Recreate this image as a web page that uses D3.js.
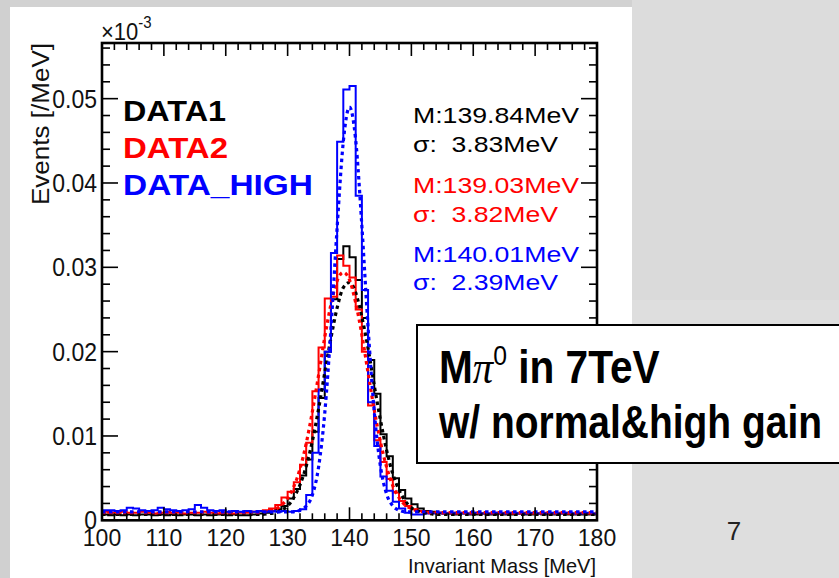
<!DOCTYPE html>
<html><head><meta charset="utf-8">
<script src="https://cdn.jsdelivr.net/npm/d3@7"></script>
<style>body{margin:0;background:#dadada;}svg{display:block;}</style>
</head><body>
<svg id="c" width="839" height="578"></svg>
<script>
// ---------- data ----------
const binStart = 100, binWidth = 1;
const data1 = [
.0007,.0006,.0007,.0006,.0007,.0006,.0007,.0007,.0006,.0007,
.0006,.0007,.0006,.0007,.0007,.0006,.0007,.0006,.0007,.0007,
.0006,.0007,.0006,.0006,.0007,.0008,.0009,.0011,.0013,.0017,
.0026,.0037,.0053,.0072,.0105,.0145,.0200,.0262,.0310,.0325,
.0312,.0285,.0240,.0190,.0150,.0102,.0076,.0050,.0036,.0026,
.0019,.0014,.0011,.0010,.0009,.0008,.0008,.0007,.0008,.0007,
.0007,.0008,.0007,.0007,.0008,.0007,.0007,.0008,.0007,.0007,
.0008,.0007,.0007,.0007,.0008,.0007,.0007,.0007,.0007,.0007];
const data2 = [
.0010,.0009,.0009,.0010,.0009,.0009,.0010,.0009,.0008,.0009,
.0010,.0009,.0009,.0008,.0009,.0009,.0010,.0009,.0008,.0009,
.0009,.0008,.0009,.0009,.0010,.0011,.0012,.0014,.0018,.0027,
.0034,.0045,.0066,.0092,.0153,.0205,.0263,.0265,.0314,.0302,
.0288,.0250,.0200,.0136,.0095,.0069,.0049,.0033,.0023,.0017,
.0013,.0011,.0010,.0009,.0009,.0008,.0009,.0008,.0009,.0008,
.0009,.0008,.0008,.0009,.0008,.0009,.0008,.0008,.0009,.0008,
.0008,.0009,.0008,.0008,.0009,.0008,.0008,.0009,.0008,.0008];
const dataHigh = [
.0012,.0012,.0011,.0012,.0015,.0014,.0012,.0011,.0012,.0015,
.0013,.0012,.0011,.0012,.0013,.0018,.0015,.0012,.0011,.0012,
.0010,.0011,.0010,.0011,.0010,.0011,.0010,.0011,.0010,.0011,
.0010,.0011,.0013,.0030,.0080,.0155,.0200,.0317,.0449,.0511,
.0515,.0385,.0273,.0140,.0088,.0052,.0035,.0022,.0014,.0009,
.0007,.0007,.0008,.0008,.0009,.0008,.0008,.0009,.0008,.0008,
.0009,.0008,.0008,.0009,.0008,.0008,.0009,.0008,.0008,.0009,
.0008,.0008,.0009,.0008,.0008,.0009,.0008,.0008,.0009,.0008];

const fitX = [100,120,125,126,127,128,129,130,131,132,133,134,135,136,137,138,139,140,
              141,142,143,144,145,146,147,148,149,150,151,152,153,154,155,156,160,180];
const fit1 = [.0007,.0007,.0007,.0007,.0008,.0009,.0012,.0017,.0027,.0042,.0064,.0094,.0132,.0175,.0216,.0252,.0276,.0282,
              .0270,.0241,.0204,.0160,.0119,.0083,.0055,.0036,.0023,.0015,.0011,.0009,.0008,.0007,.0007,.0007,.0007,.0007];
const fit2 = [.0009,.0009,.0009,.0010,.0011,.0013,.0018,.0026,.0040,.0061,.0091,.0129,.0172,.0217,.0256,.0284,.0294,.0285,
              .0258,.0220,.0175,.0131,.0093,.0063,.0041,.0027,.0018,.0014,.0011,.0010,.0009,.0009,.0009,.0009,.0009,.0009];
const fitHigh = [.0010,.0010,.0010,.0010,.0010,.0010,.0010,.0010,.0010,.0012,.0017,.0030,.0063,.0127,.0227,.0347,.0449,.0490,
              .0451,.0349,.0229,.0129,.0064,.0031,.0017,.0012,.0010,.0010,.0010,.0010,.0010,.0010,.0010,.0010,.0010,.0010];

const seriesNames = ["DATA1","DATA2","DATA_HIGH"];
const seriesColors = ["#000000","#ff0000","#0000ff"];
const statM = ["M:139.84MeV","M:139.03MeV","M:140.01MeV"];
const statS = ["\u03c3:  3.83MeV","\u03c3:  3.82MeV","\u03c3:  2.39MeV"];
const xTicks = [100,110,120,130,140,150,160,170,180];
const yTicks = [0,0.01,0.02,0.03,0.04,0.05];
const yTickLabels = ["0","0.01","0.02","0.03","0.04","0.05"];

// ---------- drawing ----------
const svg = d3.select("#c");
const FONT = "'Liberation Sans', Arial, Helvetica, sans-serif";
svg.append("rect").attr("width",839).attr("height",578).attr("fill","#dadada");
const patches = [[0,0,839,8,"#d2d2d2"],[0,0,10,578,"#d0d0d0"],[632,0,207,130,"#dcdcdc"],[632,300,207,278,"#dedede"]];
patches.forEach(p=>svg.append("rect").attr("x",p[0]).attr("y",p[1]).attr("width",p[2]).attr("height",p[3]).attr("fill",p[4]));
svg.append("rect").attr("x",10).attr("y",7).attr("width",622).attr("height",571).attr("fill","#ffffff");

const x = d3.scaleLinear().domain([100,180]).range([102,597]);
const y = d3.scaleLinear().domain([0,0.0566]).range([520.3,43]);

const g = svg.append("g");
g.append("defs").append("clipPath").attr("id","clip")
  .append("rect").attr("x",x(100)).attr("y",y(0.0566)).attr("width",x(180)-x(100)).attr("height",y(0)-y(0.0566));

function stepPts(vals){
  const pts = vals.map((v,i)=>[binStart+i*binWidth, v]);
  pts.push([binStart+vals.length*binWidth, vals[vals.length-1]]);
  return pts;
}
const stepLine = d3.line().x(d=>x(d[0])).y(d=>y(d[1])).curve(d3.curveStepAfter);
const fitLine = d3.line().x(d=>x(d[0])).y(d=>y(d[1])).curve(d3.curveMonotoneX);

const plot = g.append("g").attr("clip-path","url(#clip)");
[data1,data2,dataHigh].forEach((vals,i)=>{
  plot.append("path").attr("d",stepLine(stepPts(vals))).attr("fill","none")
    .attr("stroke",seriesColors[i]).attr("stroke-width",2);
});
[fit1,fit2,fitHigh].forEach((vals,i)=>{
  plot.append("path").attr("d",fitLine(fitX.map((xx,j)=>[xx,vals[j]]))).attr("fill","none")
    .attr("stroke",seriesColors[i]).attr("stroke-width",3.2).attr("stroke-dasharray","3.5,3.5");
});

// axes ticks (ROOT style, inside)
const ax = g.append("g").attr("stroke","#000");
const xMinor = d3.range(100,180.01,2);
xMinor.forEach(v=>{
  const major = (v%10===0);
  const L = major?13:7;
  ax.append("line").attr("x1",x(v)).attr("x2",x(v)).attr("y1",y(0)).attr("y2",y(0)-L).attr("stroke-width",1.6);
  ax.append("line").attr("x1",x(v)).attr("x2",x(v)).attr("y1",y(0.0566)).attr("y2",y(0.0566)+L).attr("stroke-width",1.6);
});
const yMinor = d3.range(0,0.0561,0.002);
yMinor.forEach((v,i)=>{
  const major = (i%5===0);
  const L = major?16:8;
  ax.append("line").attr("x1",x(100)).attr("x2",x(100)+L).attr("y1",y(v)).attr("y2",y(v)).attr("stroke-width",1.6);
  ax.append("line").attr("x1",x(180)).attr("x2",x(180)-L).attr("y1",y(v)).attr("y2",y(v)).attr("stroke-width",1.6);
});
g.append("rect").attr("x",x(100)).attr("y",y(0.0566)).attr("width",x(180)-x(100)).attr("height",y(0)-y(0.0566))
  .attr("fill","none").attr("stroke","#000").attr("stroke-width",2.6);

// tick labels (slightly tall glyphs as in the reference)
function tallText(parent, tx, ty, anchor, str, size, sy){
  return parent.append("text").attr("transform",`translate(${tx},${ty}) scale(1,${sy})`)
    .attr("text-anchor",anchor).attr("font-family",FONT).attr("font-size",size).attr("fill","#111").text(str);
}
xTicks.forEach(v=>tallText(g, x(v), 546, "middle", v, 23, 1.08));
yTicks.forEach((v,i)=>tallText(g, 97, y(v)+9, "end", yTickLabels[i], 23, 1.15));
// exponent
const ex = g.append("text").attr("transform","translate(101,40) scale(1,1.1)").attr("font-family",FONT).attr("font-size",22).attr("fill","#111");
ex.append("tspan").text("\u00d710");
ex.append("tspan").attr("dy",-11).attr("font-size",15).text("-3");

// axis titles
g.append("text").attr("transform","translate(49,43) rotate(-90)").attr("text-anchor","end")
  .attr("font-family",FONT).attr("font-size",23).attr("fill","#111")
  .attr("textLength",162).attr("lengthAdjust","spacingAndGlyphs").text("Events [/MeV]");
g.append("text").attr("x",596).attr("y",573).attr("text-anchor","end")
  .attr("font-family",FONT).attr("font-size",21).attr("fill","#111")
  .attr("textLength",188).attr("lengthAdjust","spacingAndGlyphs").text("Invariant Mass [MeV]");

// legend
const legY = [121,158,195], legW = [103,105,190];
seriesNames.forEach((n,i)=>{
  g.append("text").attr("x",123).attr("y",legY[i]).attr("font-family",FONT).attr("font-weight","bold")
   .attr("font-size",29).attr("fill",seriesColors[i])
   .attr("textLength",legW[i]).attr("lengthAdjust","spacingAndGlyphs").text(n);
});
// stats
const mY = [123,193,262], sY = [152,222,290];
statM.forEach((t,i)=>{
  g.append("text").attr("x",413).attr("y",mY[i]).attr("font-family",FONT).attr("font-size",22)
   .attr("fill",seriesColors[i]).attr("textLength",166).attr("lengthAdjust","spacingAndGlyphs").text(t);
  g.append("text").attr("x",413).attr("y",sY[i]).attr("font-family",FONT).attr("font-size",22)
   .attr("fill",seriesColors[i]).attr("textLength",145).attr("lengthAdjust","spacingAndGlyphs")
   .style("white-space","pre").text(statS[i]);
});

// annotation box
svg.append("rect").attr("x",417).attr("y",325).attr("width",440).attr("height",138)
  .attr("fill","#fff").attr("stroke","#000").attr("stroke-width",2);
const NARROW = "'Liberation Sans Narrow', 'Arial Narrow', 'Liberation Sans', Arial, sans-serif";
const t1 = svg.append("text").attr("x",0).attr("y",0).attr("font-family",NARROW).attr("font-weight","bold")
  .attr("font-size",46).attr("fill","#000");
t1.append("tspan").text("M");
t1.append("tspan").attr("font-family","'Liberation Serif', 'Times New Roman', serif").attr("font-style","italic").attr("font-weight","normal").text("\u03c0");
t1.append("tspan").attr("dy",-18).attr("font-size",28).attr("font-weight","normal").text("0");
t1.append("tspan").attr("dy",18).text(" in 7TeV");
const t2 = svg.append("text").attr("x",0).attr("y",0).attr("font-family",NARROW).attr("font-weight","bold")
  .attr("font-size",46).attr("fill","#000").text("w/ normal&high gain");
function fitWidth(sel, tx, ty, target){
  const w = sel.node().getBBox().width;
  const s = target / w;
  sel.attr("transform",`translate(${tx},${ty}) scale(${s},1)`);
}
fitWidth(t1, 439, 383, 221);
fitWidth(t2, 439, 438, 384);

// page number
svg.append("text").attr("x",734).attr("y",540).attr("text-anchor","middle").attr("font-family",FONT)
  .attr("font-size",26).attr("fill","#222").text("7");
</script>
</body></html>
